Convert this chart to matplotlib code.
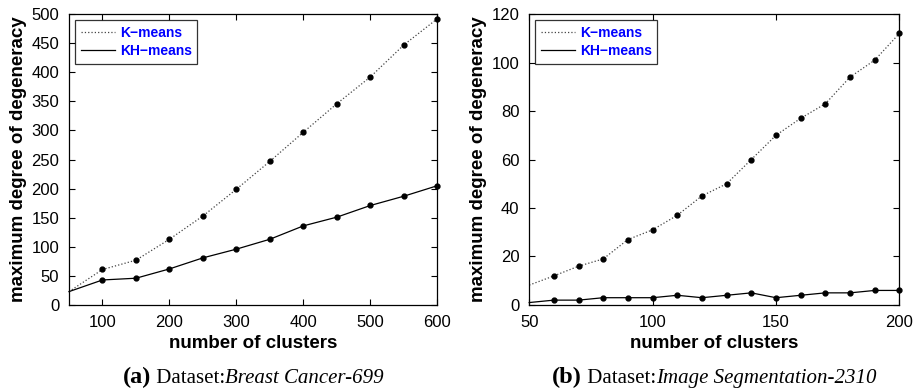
import matplotlib
matplotlib.use("Agg")
import matplotlib.pyplot as plt
from matplotlib.lines import Line2D

plt.rcParams["font.family"] = ["Liberation Sans", "DejaVu Sans"]

# (a) Breast Cancer-699
clusters_a = [50, 100, 150, 200, 250, 300, 350, 400, 450, 500, 550, 600]
kmeans_a = [23, 61, 77, 113, 153, 199, 247, 297, 346, 392, 447, 492]
khmeans_a = [23, 43, 46, 62, 81, 96, 113, 136, 151, 171, 187, 205]
yticks_a = [0, 50, 100, 150, 200, 250, 300, 350, 400, 450, 500]
xticks_a = [100, 200, 300, 400, 500, 600]

# (b) Image Segmentation-2310
clusters_b = [50, 60, 70, 80, 90, 100, 110, 120, 130, 140, 150, 160, 170, 180, 190, 200]
kmeans_b = [8.2, 12, 16, 19, 27, 31, 37, 45, 50, 60, 70, 77, 83, 94, 101, 112]
khmeans_b = [1, 2, 2, 3, 3, 3, 4, 3, 4, 5, 3, 4, 5, 5, 6, 6]
yticks_b = [0, 20, 40, 60, 80, 100, 120]
xticks_b = [50, 100, 150, 200]

fig = plt.figure(figsize=(9.14, 3.91), dpi=100)
ax1 = fig.add_axes([0.0755, 0.22, 0.403, 0.744])
ax2 = fig.add_axes([0.579, 0.22, 0.405, 0.744])

km_style = dict(linestyle=":", color="#444444", lw=0.9)
kh_style = dict(linestyle="-", color="black", lw=0.9)


def draw(ax, x, km, kh, xlim, ylim, xt, yt):
    # first point sits on the axis edge and has no marker in the original
    mk = list(range(1, len(x)))
    ax.plot(x, km, marker="o", ms=3.5, mfc="black", mec="black",
            markevery=mk, clip_on=False, **km_style)
    ax.plot(x, kh, marker="o", ms=3.5, mfc="black", mec="black",
            markevery=mk, clip_on=False, **kh_style)
    ax.set_xlim(*xlim)
    ax.set_ylim(*ylim)
    ax.set_xticks(xt)
    ax.set_yticks(yt)
    ax.tick_params(direction="in", top=True, right=True, length=4.5,
                   width=0.8, labelsize=12, pad=7)
    for s in ax.spines.values():
        s.set_linewidth(0.9)
    ax.set_xlabel("number of clusters", fontsize=13.5, fontweight="bold", labelpad=4)
    ax.set_ylabel("maximum degree of degeneracy", fontsize=13.5,
                  fontweight="bold", labelpad=3)
    handles = [Line2D([], [], **km_style), Line2D([], [], **kh_style)]
    leg = ax.legend(handles, ["K\u2212means", "KH\u2212means"], loc="upper left",
                    frameon=True, fancybox=False,
                    handlelength=2.45, handletextpad=0.35, borderpad=0.4,
                    labelspacing=0.3, borderaxespad=0.45,
                    prop={"weight": "bold", "size": 10})
    leg.get_frame().set_edgecolor("black")
    leg.get_frame().set_linewidth(0.9)
    for t in leg.get_texts():
        t.set_color("blue")


draw(ax1, clusters_a, kmeans_a, khmeans_a, (50, 600), (0, 500), xticks_a, yticks_a)
draw(ax2, clusters_b, kmeans_b, khmeans_b, (50, 200), (0, 120), xticks_b, yticks_b)

serif = ["Liberation Serif", "DejaVu Serif"]
for ax, lab, name in [(ax1, "(a)", "Breast Cancer-699"),
                      (ax2, "(b)", "Image Segmentation-2310")]:
    pos = ax.get_position()
    cx = (pos.x0 + pos.x1) / 2
    t1 = fig.text(0, 0.02, lab, family=serif, fontsize=17.5, fontweight="bold",
                  va="baseline")
    t2 = fig.text(0, 0.02, " Dataset:", family=serif, fontsize=15, va="baseline")
    t3 = fig.text(0, 0.02, name, family=serif, fontsize=15, style="italic",
                  va="baseline")
    fig.canvas.draw()
    r = fig.canvas.get_renderer()
    w = [t.get_window_extent(r).width / fig.bbox.width for t in (t1, t2, t3)]
    x0 = cx - sum(w) / 2
    t1.set_x(x0)
    t2.set_x(x0 + w[0])
    t3.set_x(x0 + w[0] + w[1])

fig.savefig("out.png", dpi=100)
